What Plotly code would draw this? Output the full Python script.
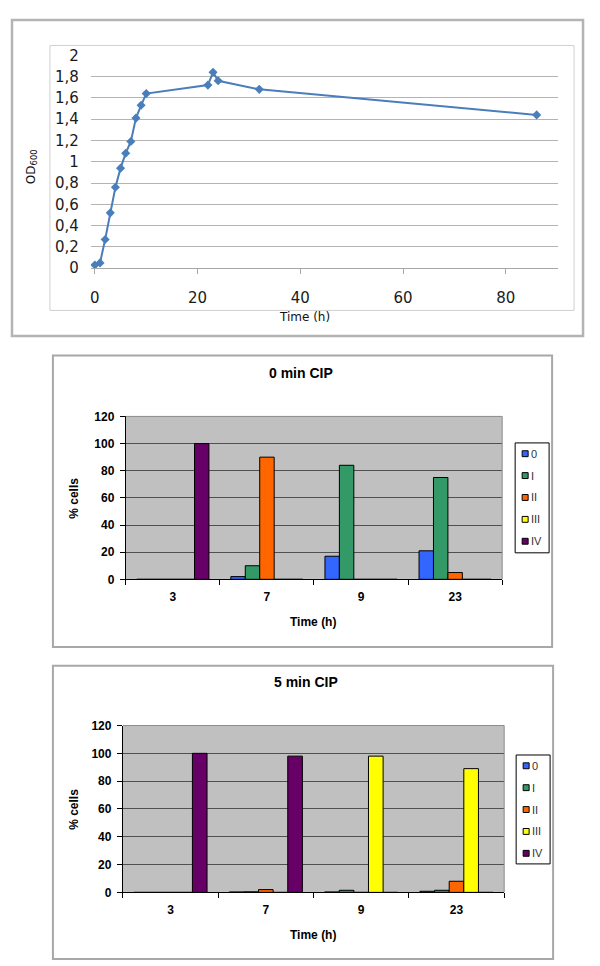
import plotly.graph_objects as go

W, H = 600, 966

# ---------------- data ----------------
growth_time_h = [0, 1, 2, 3, 4, 5, 6, 7, 8, 9, 10, 22, 23, 24, 32, 86]
growth_od600 = [0.03, 0.05, 0.27, 0.52, 0.76, 0.94, 1.08, 1.19, 1.41, 1.53, 1.64, 1.72, 1.84, 1.76, 1.68, 1.44]
od_tick_vals = [0, 0.2, 0.4, 0.6, 0.8, 1, 1.2, 1.4, 1.6, 1.8, 2]
od_tick_text = ["0", "0,2", "0,4", "0,6", "0,8", "1", "1,2", "1,4", "1,6", "1,8", "2"]
time_tick_vals = [0, 20, 40, 60, 80]

times = ["3", "7", "9", "23"]
stages = ["0", "I", "II", "III", "IV"]
stage_colors = ["#3366FF", "#339966", "#FF6600", "#FFFF00", "#660066"]

cip0_stage0 = [0, 2, 17, 21]
cip0_stageI = [0, 10, 84, 75]
cip0_stageII = [0, 90, 0, 5]
cip0_stageIII = [0, 0, 0, 0]
cip0_stageIV = [100, 0, 0, 0]

cip5_stage0 = [0, 0.3, 0.3, 0.8]
cip5_stageI = [0, 0.4, 1.5, 1.5]
cip5_stageII = [0, 2, 0, 8]
cip5_stageIII = [0, 0, 98, 89]
cip5_stageIV = [100, 98, 0, 0]

cip0 = [cip0_stage0, cip0_stageI, cip0_stageII, cip0_stageIII, cip0_stageIV]
cip5 = [cip5_stage0, cip5_stageI, cip5_stageII, cip5_stageIII, cip5_stageIV]


def px(x):
    return x / W


def py(y):
    return 1 - y / H


fig = go.Figure()

# ---------------- growth curve ----------------
fig.add_trace(go.Scatter(
    x=growth_time_h, y=growth_od600, mode="lines+markers",
    line=dict(color="#4A7EBB", width=2),
    marker=dict(symbol="diamond", size=7, color="#4A7EBB"),
    xaxis="x", yaxis="y", showlegend=False,
))

# ---------------- bar charts ----------------
for data, xa, ya in [(cip0, "x2", "y2"), (cip5, "x3", "y3")]:
    for name, color, vals in zip(stages, stage_colors, data):
        fig.add_trace(go.Bar(
            x=times, y=vals, name=name,
            marker=dict(color=color, line=dict(color="black", width=1)),
            xaxis=xa, yaxis=ya, showlegend=False,
        ))

calib = dict(family="DejaVu Sans", size=15, color="#1a1a1a")
arialb = dict(family="Liberation Sans", size=12, color="black", weight="bold")

bar_x_axis = dict(
    type="category", showgrid=False, showline=True, linecolor="black", linewidth=1,
    ticks="outside", tickson="boundaries", ticklen=5, tickcolor="black",
    tickfont=arialb, ticklabelstandoff=6, zeroline=False, fixedrange=True,
)
bar_y_axis = dict(
    range=[0, 120], dtick=20, showgrid=True, gridcolor="#505050", gridwidth=1,
    showline=True, linecolor="black", linewidth=1, ticks="outside", ticklen=5,
    tickcolor="black", tickfont=arialb, ticklabelstandoff=3, zeroline=False,
)

fig.update_layout(
    width=W, height=H, margin=dict(l=0, r=0, t=0, b=0),
    paper_bgcolor="white", plot_bgcolor="rgba(0,0,0,0)",
    barmode="group", bargap=0.233, bargroupgap=0,
    showlegend=False,
    xaxis=dict(
        domain=[px(82), px(550)], anchor="y", range=[-0.78, 90.17],
        tickvals=time_tick_vals, showgrid=False, showline=True, linecolor="#a6a6a6",
        ticks="outside", ticklen=5, tickcolor="#a6a6a6", tickfont=calib,
        ticklabelstandoff=11, zeroline=False,
    ),
    yaxis=dict(
        domain=[py(256), py(39)], anchor="x", range=[0, 2],
        tickvals=od_tick_vals, ticktext=od_tick_text, showgrid=True,
        gridcolor="#b3b3b3", zeroline=False, showline=False, ticks="",
        tickfont=calib, ticklabelstandoff=11,
    ),
    xaxis2=dict(domain=[px(117), px(494)], anchor="y2", **bar_x_axis),
    yaxis2=dict(domain=[py(573), py(407)], anchor="x2", **bar_y_axis),
    xaxis3=dict(domain=[px(114), px(496)], anchor="y3", **bar_x_axis),
    yaxis3=dict(domain=[py(892), py(722)], anchor="x3", **bar_y_axis),
)

shapes = []
annotations = []

# borders of the top chart
shapes.append(dict(type="rect", xref="paper", yref="paper", x0=px(3), x1=px(575), y0=py(325), y1=py(3),
                   line=dict(color="#b4b4b4", width=2.5), layer="below"))
shapes.append(dict(type="rect", xref="paper", yref="paper", x0=px(41), x1=px(566), y0=py(299), y1=py(29),
                   line=dict(color="#d0d0d0", width=1), layer="below"))

annotations.append(dict(text="Time (h)", x=px(296), y=py(306), xref="paper", yref="paper",
                        showarrow=False, font=dict(family="DejaVu Sans", size=12, color="#111111"),
                        xanchor="center", yanchor="middle"))
annotations.append(dict(text="OD<sub>600</sub>", x=px(23), y=py(152), xref="paper", yref="paper",
                        showarrow=False, textangle=-90,
                        font=dict(family="DejaVu Sans", size=12, color="#111111"),
                        xanchor="center", yanchor="middle"))

bar_charts = [
    dict(title="0 min CIP", xa="x2", ya="y2", border=(44, 544, 345, 642), title_xy=(292, 363),
         ytitle_xy=(65, 490), xtitle_xy=(305, 616), legend_box=(507, 541, 434, 546), legend_y0=445),
    dict(title="5 min CIP", xa="x3", ya="y3", border=(44, 545, 661, 960), title_xy=(297, 678),
         ytitle_xy=(65, 807), xtitle_xy=(305, 935), legend_box=(508, 542, 752, 863), legend_y0=763),
]

for bc in bar_charts:
    x0, x1, y0, y1 = bc["border"]
    shapes.append(dict(type="rect", xref="paper", yref="paper", x0=px(x0), x1=px(x1), y0=py(y1), y1=py(y0),
                       line=dict(color="#a8a8a8", width=2), layer="below"))
    # gray plot area
    shapes.append(dict(type="rect", xref=bc["xa"] + " domain", yref=bc["ya"] + " domain",
                       x0=0, x1=1, y0=0, y1=1, fillcolor="#C0C0C0", line=dict(width=0), layer="below"))
    # light border on top and right of plot area
    shapes.append(dict(type="path", xref=bc["xa"] + " domain", yref=bc["ya"] + " domain",
                       path="M0,1 L1,1 L1,0", line=dict(color="#8c8c8c", width=1), layer="above"))
    annotations.append(dict(text="<b>" + bc["title"] + "</b>", x=px(bc["title_xy"][0]), y=py(bc["title_xy"][1]),
                            xref="paper", yref="paper", showarrow=False,
                            font=dict(family="Liberation Sans", size=14, color="black"),
                            xanchor="center", yanchor="middle"))
    annotations.append(dict(text="<b>% cells</b>", x=px(bc["ytitle_xy"][0]), y=py(bc["ytitle_xy"][1]),
                            xref="paper", yref="paper", showarrow=False, textangle=-90,
                            font=dict(family="Liberation Sans", size=12, color="black"),
                            xanchor="center", yanchor="middle"))
    annotations.append(dict(text="<b>Time (h)</b>", x=px(bc["xtitle_xy"][0]), y=py(bc["xtitle_xy"][1]),
                            xref="paper", yref="paper", showarrow=False,
                            font=dict(family="Liberation Sans", size=12, color="black"),
                            xanchor="center", yanchor="middle"))
    # legend
    lx0, lx1, ly0, ly1 = bc["legend_box"]
    shapes.append(dict(type="rect", xref="paper", yref="paper", x0=px(lx0), x1=px(lx1), y0=py(ly1), y1=py(ly0),
                       fillcolor="white", line=dict(color="black", width=1), layer="above"))
    for i, (name, color) in enumerate(zip(stages, stage_colors)):
        cy = bc["legend_y0"] + i * 22.3
        sx = lx0 + 7
        shapes.append(dict(type="rect", xref="paper", yref="paper", x0=px(sx), x1=px(sx + 6),
                           y0=py(cy + 3), y1=py(cy - 3), fillcolor=color,
                           line=dict(color="black", width=1), layer="above"))
        annotations.append(dict(text=name, x=px(sx + 7), y=py(cy), xref="paper", yref="paper",
                                showarrow=False, font=dict(family="Liberation Sans", size=11, color="#333333"),
                                xanchor="left", yanchor="middle"))

fig.update_layout(shapes=shapes, annotations=annotations)

fig.write_html("out.html")
